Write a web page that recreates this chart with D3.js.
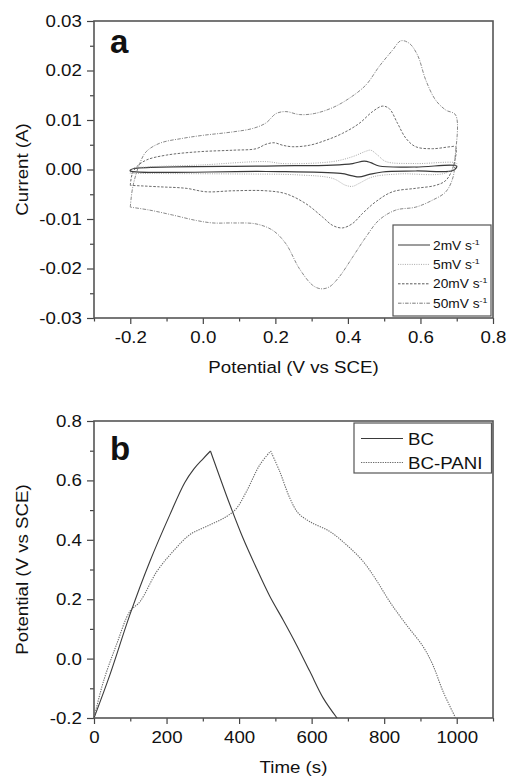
<!DOCTYPE html>
<html>
<head>
<meta charset="utf-8">
<script src="https://cdn.jsdelivr.net/npm/d3@7"></script>
<style>
  body { margin: 0; background: #fff; }
  text { font-family: Arial, "Liberation Sans", sans-serif; fill: #111; }
</style>
</head>
<body>
<div id="grafico"></div>
<script>
/* ---------- dados ---------- */
// voltametria ciclica: [potencial V, corrente A], volta completa
var cv2 = [[-0.2,-0.0001],[-0.19,0.0002],[0.174,0.0007],[0.358,0.0009],[0.413,0.0012],[0.445,0.0017],[0.463,0.0014],
  [0.486,0.0007],[0.587,0.0005],[0.70,0.0007],[0.69,-0.0002],[0.587,-0.0003],[0.495,-0.0005],[0.459,-0.001],
  [0.431,-0.0015],[0.413,-0.0013],[0.38,-0.0008],[0.174,-0.0004],[-0.2,-0.0003],[-0.2,-0.0001]];
var cv5 = [[-0.2,-0.0008],[-0.193,0.0002],[-0.156,0.0005],[-0.009,0.0009],[0.174,0.0016],[0.220,0.0012],[0.358,0.0016],
  [0.413,0.0026],[0.45,0.0037],[0.463,0.0039],[0.482,0.0029],[0.505,0.0016],[0.587,0.0012],[0.70,0.0012],
  [0.67,-0.0007],[0.541,-0.0009],[0.468,-0.0015],[0.431,-0.0028],[0.413,-0.0034],[0.394,-0.0032],[0.358,-0.0018],
  [0.266,-0.0011],[0.083,-0.0009],[-0.2,-0.0008]];
var cv20 = [[-0.2,-0.0032],[-0.195,-0.001],[-0.183,0.0005],[-0.156,0.0019],[-0.101,0.0029],[-0.009,0.0036],[0.083,0.0039],
  [0.147,0.0042],[0.174,0.0051],[0.197,0.0054],[0.220,0.0049],[0.248,0.0046],[0.294,0.0049],[0.339,0.0059],
  [0.385,0.0073],[0.431,0.0093],[0.468,0.0117],[0.495,0.0128],[0.514,0.0123],[0.537,0.0093],[0.56,0.0063],
  [0.587,0.0046],[0.633,0.0042],[0.683,0.0046],[0.697,0.0046],[0.69,0.0005],[0.67,-0.0022],[0.642,-0.0032],
  [0.587,-0.0038],[0.523,-0.0045],[0.477,-0.0065],[0.44,-0.0089],[0.413,-0.0109],[0.385,-0.0118],[0.358,-0.0113],
  [0.33,-0.0096],[0.284,-0.0069],[0.229,-0.0049],[0.174,-0.0043],[0.083,-0.0043],[0.009,-0.0045],[-0.046,-0.0038],
  [-0.119,-0.0035],[-0.2,-0.0032]];
var cv50 = [[-0.2,-0.0076],[-0.193,-0.0035],[-0.174,0.0012],[-0.156,0.0036],[-0.119,0.0053],[-0.055,0.0063],[0.0,0.0069],
  [0.083,0.0076],[0.138,0.0083],[0.174,0.0094],[0.202,0.0113],[0.229,0.0117],[0.266,0.0111],[0.307,0.0113],
  [0.358,0.0125],[0.404,0.0144],[0.45,0.0171],[0.486,0.0208],[0.523,0.0241],[0.546,0.026],[0.569,0.0255],
  [0.592,0.0231],[0.615,0.018],[0.642,0.014],[0.670,0.0120],[0.697,0.0110],[0.695,0.002],[0.69,-0.0015],
  [0.67,-0.0045],[0.633,-0.0062],[0.587,-0.0076],[0.532,-0.0082],[0.486,-0.0102],[0.45,-0.0136],[0.413,-0.0177],
  [0.376,-0.0217],[0.349,-0.0237],[0.326,-0.0241],[0.303,-0.0234],[0.266,-0.02],[0.229,-0.015],[0.193,-0.0123],
  [0.147,-0.011],[0.083,-0.0108],[0.028,-0.0108],[-0.018,-0.0103],[-0.083,-0.0092],[-0.147,-0.0082],[-0.2,-0.0076]];
var nomesCV = ['2mV s', '5mV s', '20mV s', '50mV s'];

// carga-descarga: [tempo s, potencial V]
var bc = [[0,-0.2],[44,-0.054],[99,0.148],[154,0.327],[209,0.484],[250,0.592],[275,0.638],[300,0.672],[321,0.699],
  [338,0.641],[375,0.517],[411,0.405],[448,0.304],[485,0.209],[521,0.131],[558,0.047],[595,-0.043],[632,-0.133],[670,-0.2]];
var bcPani = [[0,-0.2],[26,-0.077],[62,0.047],[99,0.159],[127,0.192],[173,0.293],[218,0.361],[264,0.417],[319,0.45],
  [365,0.478],[393,0.506],[420,0.562],[457,0.652],[487,0.699],[512,0.630],[540,0.540],[563,0.49],[595,0.461],
  [650,0.428],[696,0.383],[742,0.327],[778,0.265],[815,0.192],[861,0.114],[907,0.041],[934,-0.021],[962,-0.110],[997,-0.2]];
var nomesGCD = ['BC', 'BC-PANI'];

// marcas dos eixos
var ticksXa = [-0.2, 0.0, 0.2, 0.4, 0.6, 0.8];
var minorXa = [-0.3, -0.1, 0.1, 0.3, 0.5, 0.7];
var ticksYa = [-0.03, -0.02, -0.01, 0.0, 0.01, 0.02, 0.03];
var minorYa = [-0.025, -0.015, -0.005, 0.005, 0.015, 0.025];
var ticksXb = [0, 200, 400, 600, 800, 1000];
var minorXb = [100, 300, 500, 700, 900, 1100];
var ticksYb = [-0.2, 0.0, 0.2, 0.4, 0.6, 0.8];
var minorYb = [-0.1, 0.1, 0.3, 0.5, 0.7];

/* ---------- estilos ---------- */
var estica = 'scale(1.1,1)';     // o texto original e mais largo
var fonte = 17;
var estilosCV = [
  { cor: '#3a3a3a', dash: null, w: 1.2 },
  { cor: '#a8a8a8', dash: '1,1.3', w: 1 },
  { cor: '#5a5a5a', dash: '2.5,1.5', w: 0.9 },
  { cor: '#7a7a7a', dash: '3.5,1.3,1,1.3', w: 0.9 }
];
var estilosGCD = [
  { cor: '#3a3a3a', dash: null, w: 1.1 },
  { cor: '#6a6a6a', dash: '1.3,1.1', w: 1.1 }
];

var fmt = d3.formatLocale({ decimal: '.', thousands: ',', grouping: [3], currency: ['', ''], minus: '-' });

var svg = d3.select('#grafico').append('svg')
  .attr('width', 507).attr('height', 777);

/* ---------- painel a ---------- */
var xA = d3.scaleLinear().domain([-0.3, 0.8]).range([94, 493]);
var yA = d3.scaleLinear().domain([-0.03, 0.03]).range([318, 21]);

eixos(xA, yA, ticksXa, minorXa, ticksYa, minorYa, fmt.format('.1f'), fmt.format('.2f'));

var linhaA = d3.line().x(function(d){ return xA(d[0]); }).y(function(d){ return yA(d[1]); })
  .curve(d3.curveCatmullRom.alpha(0.5));

[cv2, cv5, cv20, cv50].forEach(function(dados, i) {
  svg.append('path').datum(dados)
    .attr('d', linhaA)
    .attr('fill', 'none')
    .attr('stroke', estilosCV[i].cor)
    .attr('stroke-width', estilosCV[i].w)
    .attr('stroke-dasharray', estilosCV[i].dash);
});

// legenda a
svg.append('rect').attr('x', 393).attr('y', 225).attr('width', 98).attr('height', 91)
  .attr('fill', '#fff').attr('stroke', '#555').attr('stroke-width', 1.2);
nomesCV.forEach(function(nome, i) {
  var y = 245 + i * 19.4;
  svg.append('line').attr('x1', 398).attr('x2', 430).attr('y1', y).attr('y2', y)
    .attr('stroke', estilosCV[i].cor).attr('stroke-width', 1)
    .attr('stroke-dasharray', estilosCV[i].dash);
  var t = svg.append('text').attr('transform', 'translate(433,' + (y + 4.5) + ') ' + estica)
    .style('font-size', '12.5px').text(nome);
  t.append('tspan').attr('dy', -5).style('font-size', '8px').text('-1');
});

svg.append('text').attr('x', 110).attr('y', 53)
  .style('font-size', '33px').style('font-weight', 'bold').text('a');

titulo(293.5, 373, 0, 'Potential (V vs SCE)');
titulo(28, 169.5, -90, 'Current (A)');

/* ---------- painel b ---------- */
var xB = d3.scaleLinear().domain([0, 1100]).range([94, 493]);
var yB = d3.scaleLinear().domain([-0.2, 0.8]).range([718, 421]);

eixos(xB, yB, ticksXb, minorXb, ticksYb, minorYb, fmt.format('d'), fmt.format('.1f'));

var linhaB = d3.line().x(function(d){ return xB(d[0]); }).y(function(d){ return yB(d[1]); })
  .curve(d3.curveCatmullRom.alpha(0.5));

// carga e descarga separadas no pico, para manter o bico agudo
[bc, bcPani].forEach(function(dados, i) {
  var pico = d3.maxIndex(dados, function(d){ return d[1]; });
  [dados.slice(0, pico + 1), dados.slice(pico)].forEach(function(parte) {
    svg.append('path').datum(parte)
      .attr('d', linhaB)
      .attr('fill', 'none')
      .attr('stroke', estilosGCD[i].cor)
      .attr('stroke-width', estilosGCD[i].w)
      .attr('stroke-dasharray', estilosGCD[i].dash);
  });
});

// legenda b
svg.append('rect').attr('x', 354).attr('y', 423).attr('width', 137.5).attr('height', 50)
  .attr('fill', '#fff').attr('stroke', '#555').attr('stroke-width', 1.2);
nomesGCD.forEach(function(nome, i) {
  var y = 438.5 + i * 24;
  svg.append('line').attr('x1', 361).attr('x2', 403).attr('y1', y).attr('y2', y)
    .attr('stroke', estilosGCD[i].cor).attr('stroke-width', 1.2)
    .attr('stroke-dasharray', estilosGCD[i].dash);
  svg.append('text').attr('transform', 'translate(408,' + (y + 6) + ') ' + estica)
    .style('font-size', fonte + 'px').text(nome);
});

svg.append('text').attr('x', 110).attr('y', 460)
  .style('font-size', '33px').style('font-weight', 'bold').text('b');

titulo(293.5, 773, 0, 'Time (s)');
titulo(28, 569.5, -90, 'Potential (V vs SCE)');

/* ---------- funções ---------- */
// desenha moldura, eixos e marcas menores
function eixos(x, y, tx, mx, ty, my, fx, fy) {
  var y0 = y.range()[0], x0 = x.range()[0];

  var gx = svg.append('g').attr('transform', 'translate(0,' + y0 + ')')
    .call(d3.axisBottom(x).tickValues(tx).tickFormat(fx).tickSize(6).tickPadding(7));
  var gmx = svg.append('g').attr('transform', 'translate(0,' + y0 + ')')
    .call(d3.axisBottom(x).tickValues(mx).tickFormat('').tickSize(3.5));
  var gy = svg.append('g').attr('transform', 'translate(' + x0 + ',0)')
    .call(d3.axisLeft(y).tickValues(ty).tickFormat(fy).tickSize(7).tickPadding(4));
  var gmy = svg.append('g').attr('transform', 'translate(' + x0 + ',0)')
    .call(d3.axisLeft(y).tickValues(my).tickFormat('').tickSize(4));

  [gx, gmx, gy, gmy].forEach(function(g) {
    g.select('.domain').remove();
    g.selectAll('line').attr('stroke', '#444').attr('stroke-width', 1.2);
    g.selectAll('text').attr('transform', estica)
      .style('font-size', fonte + 'px').style('font-family', 'Arial, "Liberation Sans", sans-serif')
      .attr('fill', '#111');
  });

  svg.append('rect')
    .attr('x', x.range()[0]).attr('y', y.range()[1])
    .attr('width', x.range()[1] - x.range()[0])
    .attr('height', y.range()[0] - y.range()[1])
    .attr('fill', 'none').attr('stroke', '#555').attr('stroke-width', 1.6);
}

// título de eixo
function titulo(x, y, ang, txt) {
  svg.append('text')
    .attr('transform', 'translate(' + x + ',' + y + ') rotate(' + ang + ') ' + estica)
    .attr('text-anchor', 'middle')
    .style('font-size', fonte + 'px')
    .text(txt);
}
</script>
</body>
</html>
